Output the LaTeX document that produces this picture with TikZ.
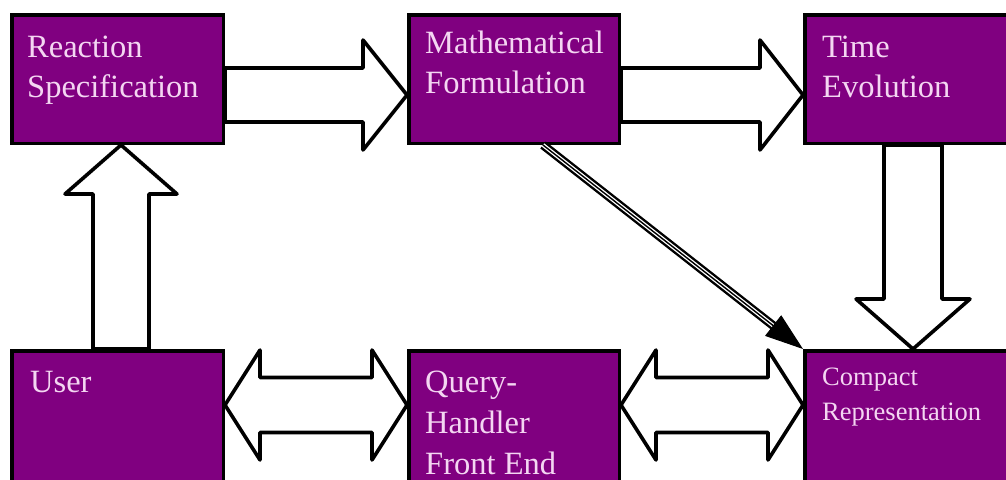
\documentclass[tikz,border=0pt]{standalone}
\usepackage{fontspec}
\setmainfont{Liberation Serif}
\usetikzlibrary{positioning, arrows.meta, calc}

\definecolor{boxpurple}{RGB}{128,0,128}
\definecolor{labelpink}{RGB}{244,214,242}

\begin{document}
\begin{tikzpicture}[
    x=1pt, y=-1pt,
    % Boxes
    box/.style={
        rectangle, draw=black, fill=boxpurple, line width=3.5pt,
        anchor=north west, minimum width=210.5pt, minimum height=128.5pt
    },
    widebox/.style={box, minimum width=250pt},
    lowbox/.style={minimum height=160pt},
    % Labels (anchored at the baseline of the last line)
    box_text/.style={
        anchor=base west, align=left, inner sep=0pt, text=labelpink,
        font=\fontsize{32.5pt}{40pt}\selectfont
    },
    small_text/.style={box_text, font=\fontsize{26.5pt}{35pt}\selectfont},
    % Arrows
    block_arrow/.style={draw=black, fill=white, line width=3.6pt, line join=round},
    triple_line/.style={draw=black, line width=2.4pt, double=white, double distance=4pt}
]

    % --- HELPERS: from, to, shaft half, head half, head length ---
    \def\blockarrow#1#2#3#4#5{%
        \coordinate (ba-b) at ($(#2)!#5!(#1)$);
        \draw[block_arrow] ($(#1)!#3!90:(#2)$) -- ($(ba-b)!#3!90:(#2)$)
            -- ($(ba-b)!#4!90:(#2)$) -- (#2) -- ($(ba-b)!#4!-90:(#2)$)
            -- ($(ba-b)!#3!-90:(#2)$) -- ($(#1)!#3!-90:(#2)$) -- cycle;
    }
    \def\doublearrow#1#2#3#4#5{%
        \coordinate (da-l) at ($(#1)!#5!(#2)$);
        \coordinate (da-r) at ($(#2)!#5!(#1)$);
        \draw[block_arrow] (#1) -- ($(da-l)!#4!90:(#2)$) -- ($(da-l)!#3!90:(#2)$)
            -- ($(da-r)!#3!-90:(#1)$) -- ($(da-r)!#4!-90:(#1)$) -- (#2)
            -- ($(da-r)!#4!90:(#1)$) -- ($(da-r)!#3!90:(#1)$)
            -- ($(da-l)!#3!-90:(#2)$) -- ($(da-l)!#4!-90:(#2)$) -- cycle;
    }

    \useasboundingbox (0,0) rectangle (1006,479);
    \clip (0,0) rectangle (1006,479);

    % --- TOP ROW ---
    \node[box, minimum width=211.5pt] (rs) at (10,13) {};
    \node[box] (mf) at (407,13) {};
    \node[widebox] (te) at (803,13) {};

    % --- BOTTOM ROW ---
    \node[box, lowbox, minimum width=211.5pt] (us) at (10,349) {};
    \node[box, lowbox] (qh) at (407,349) {};
    \node[widebox, lowbox] (cr) at (803,349) {};

    % --- LABELS ---
    \node[box_text] (rs-text) at ($(rs.north west)+(17,84)$) {Reaction\\Specification};
    \node[box_text] (mf-text) at ($(mf.north west)+(18,80)$) {Mathematical\\Formulation};
    \node[box_text] (te-text) at ($(te.north west)+(19,84)$) {Time\\Evolution};
    \node[box_text] (us-text) at ($(us.north west)+(20,43)$) {User};
    \node[box_text, font=\fontsize{32.5pt}{41pt}\selectfont] (qh-text)
        at ($(qh.north west)+(18,125)$) {Query-\\Handler\\Front End};
    \node[small_text] (cr-text) at ($(cr.north west)+(19,71)$) {Compact\\Representation};

    % --- BLOCK ARROWS ---
    \coordinate (a1s) at ($(rs.north east)+(0,82)$);
    \coordinate (a1t) at ($(mf.north west)+(0,82)$);
    \blockarrow{a1s}{a1t}{27pt}{55pt}{44pt}

    \coordinate (a2s) at ($(mf.north east)+(0,82)$);
    \coordinate (a2t) at ($(te.north west)+(0,82)$);
    \blockarrow{a2s}{a2t}{27pt}{55pt}{43pt}

    \coordinate (a3s) at ($(te.south west)+(110,0)$);
    \coordinate (a3t) at ($(cr.north west)+(110,0)$);
    \blockarrow{a3s}{a3t}{29pt}{57pt}{50pt}

    \coordinate (a4s) at ($(us.north west)+(111,0)$);
    \coordinate (a4t) at ($(rs.south west)+(111,0)$);
    \blockarrow{a4s}{a4t}{28pt}{56pt}{49pt}

    \coordinate (d1l) at ($(us.north east)+(0,56)$);
    \coordinate (d1r) at ($(qh.north west)+(0,56)$);
    \doublearrow{d1l}{d1r}{27.5pt}{55pt}{35pt}

    \coordinate (d2l) at ($(qh.north east)+(0,56)$);
    \coordinate (d2r) at ($(cr.north west)+(0,56)$);
    \doublearrow{d2l}{d2r}{27.5pt}{55pt}{35pt}

    % --- DIAGONAL LINK ---
    \coordinate (dg-start) at ($(mf.south)+(29,0)$);
    \draw[triple_line, shorten >=30pt] (dg-start) -- (cr.north west);
    \draw[line width=1.4pt, shorten >=30pt] (dg-start) -- (cr.north west);
    \draw[line width=1pt, -{Triangle[length=38pt, width=26pt]}]
        ($(cr.north west)!40pt!(dg-start)$) -- (cr.north west);

\end{tikzpicture}
\end{document}
